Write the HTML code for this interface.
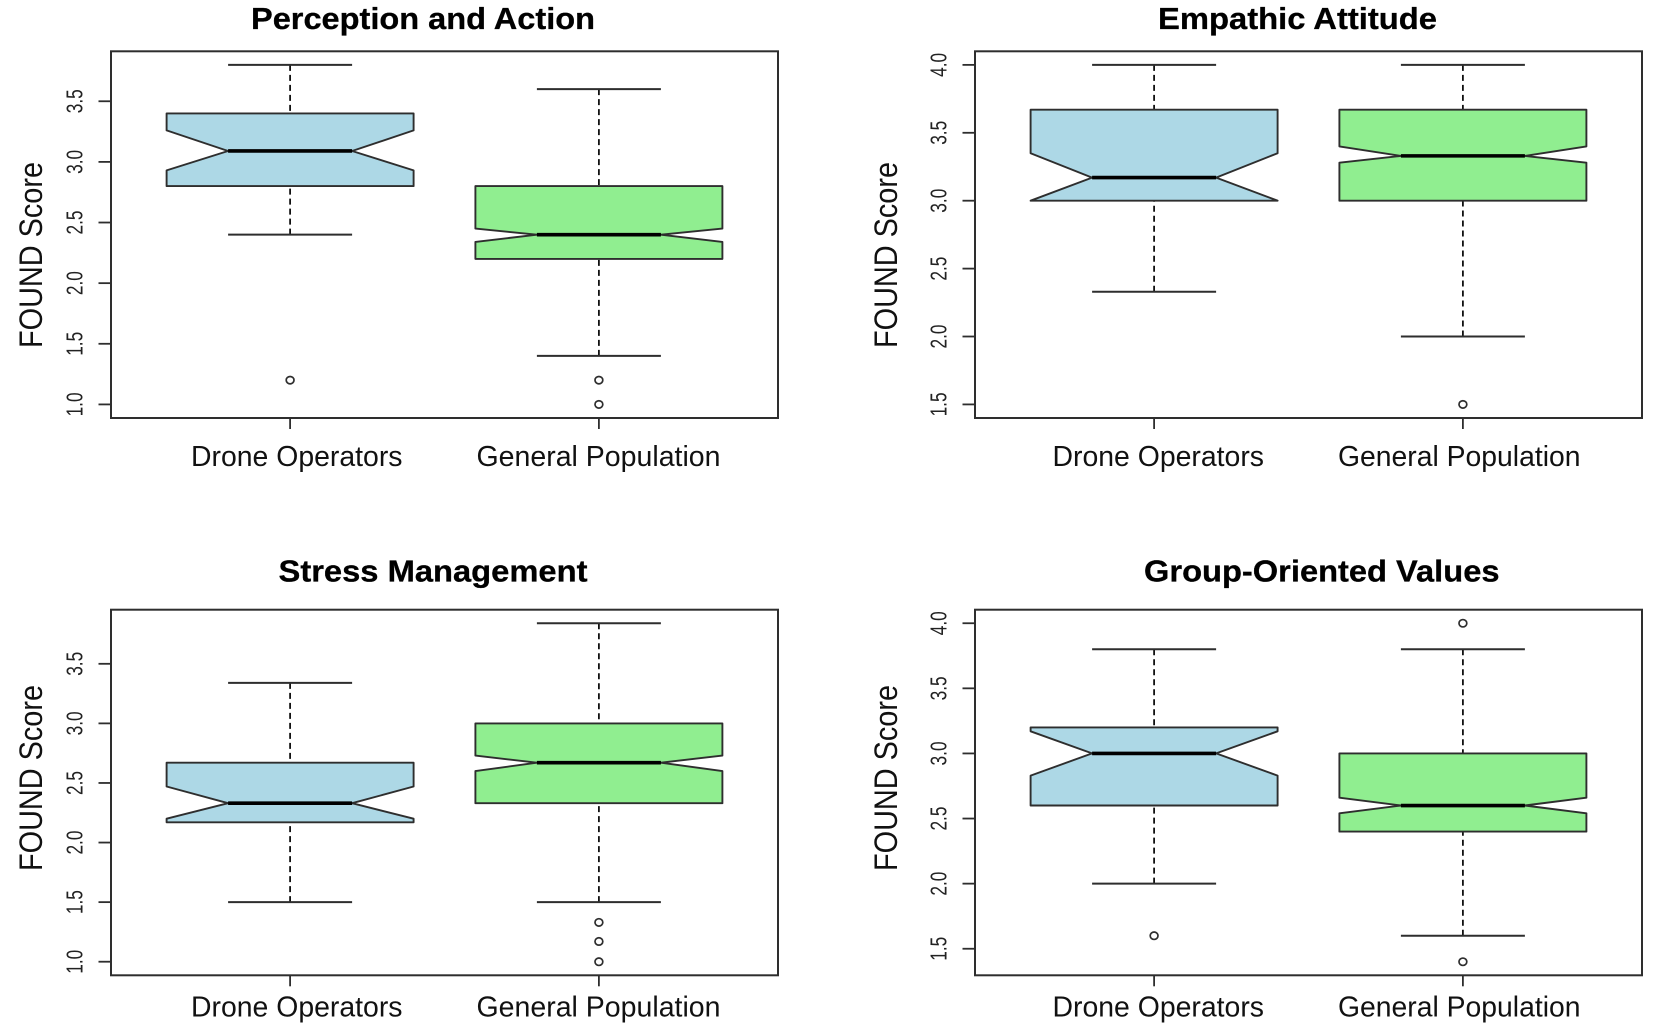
<!DOCTYPE html>
<html lang="en">
<head>
<meta charset="utf-8">
<title>FOUND Score boxplots</title>
<style>
  html, body { margin: 0; padding: 0; background: #ffffff; }
  svg { display: block; font-family: "Liberation Sans", Arial, sans-serif; filter: blur(0.35px); }
</style>
</head>
<body>
<svg id="figure" xmlns="http://www.w3.org/2000/svg" width="1654" height="1036" viewBox="0 0 1654 1036"></svg>
<script>
// Categories and axis labels
const categories = ['Drone Operators', 'General Population'];
const yAxisTitle = 'FOUND Score';

// Perception and Action: [low whisker, Q1, median, Q3, high whisker]
const perceptionDrone = [2.4, 2.8, 3.09, 3.4, 3.8];
const perceptionGeneral = [1.4, 2.2, 2.4, 2.8, 3.6];
const perceptionDroneNotch = [2.93, 3.26];
const perceptionGeneralNotch = [2.34, 2.45];
const perceptionDroneOutliers = [1.2];
const perceptionGeneralOutliers = [1.2, 1.0];
const perceptionTicks = ['1.0', '1.5', '2.0', '2.5', '3.0', '3.5'];
const perceptionDomain = [0.888, 3.912];

// Empathic Attitude
const empathicDrone = [2.33, 3.0, 3.17, 3.67, 4.0];
const empathicGeneral = [2.0, 3.0, 3.33, 3.67, 4.0];
const empathicDroneNotch = [3.0, 3.35];
const empathicGeneralNotch = [3.28, 3.40];
const empathicDroneOutliers = [];
const empathicGeneralOutliers = [1.5];
const empathicTicks = ['1.5', '2.0', '2.5', '3.0', '3.5', '4.0'];
const empathicDomain = [1.4, 4.1];

// Stress Management
const stressDrone = [1.5, 2.17, 2.33, 2.67, 3.34];
const stressGeneral = [1.5, 2.33, 2.67, 3.0, 3.84];
const stressDroneNotch = [2.2, 2.47];
const stressGeneralNotch = [2.6, 2.73];
const stressDroneOutliers = [];
const stressGeneralOutliers = [1.33, 1.17, 1.0];
const stressTicks = ['1.0', '1.5', '2.0', '2.5', '3.0', '3.5'];
const stressDomain = [0.886, 3.954];

// Group-Oriented Values
const groupDrone = [2.0, 2.6, 3.0, 3.2, 3.8];
const groupGeneral = [1.6, 2.4, 2.6, 3.0, 3.8];
const groupDroneNotch = [2.83, 3.17];
const groupGeneralNotch = [2.54, 2.66];
const groupDroneOutliers = [1.6];
const groupGeneralOutliers = [4.0, 1.4];
const groupTicks = ['1.5', '2.0', '2.5', '3.0', '3.5', '4.0'];
const groupDomain = [1.296, 4.104];

const SVG_NS = 'http://www.w3.org/2000/svg';
const figure = document.getElementById('figure');
const INK = '#2e2e2e';
const FILLS = ['#ADD8E6', '#90EE90'];

function make(parent, tag, attrs, text) {
  const node = document.createElementNS(SVG_NS, tag);
  Object.keys(attrs).forEach(function (k) { node.setAttribute(k, attrs[k]); });
  if (text !== undefined) node.textContent = text;
  parent.appendChild(node);
  return node;
}

function drawBox(g, xc, y, stats, notch, outliers, fill) {
  const hw = 123.5, shw = 62;
  const low = stats[0], q1 = stats[1], med = stats[2], q3 = stats[3], high = stats[4];

  const upperWhisker = make(g, 'line', { x1: xc, x2: xc, y1: y(high), y2: y(q3), stroke: '#111', 'stroke-width': 1.8, 'stroke-dasharray': '6 4' });
  
  

  const lowerWhisker = make(g, 'line', { x1: xc, x2: xc, y1: y(low), y2: y(q1), stroke: '#111', 'stroke-width': 1.8, 'stroke-dasharray': '6 4' });
  
  

  const upperCap = make(g, 'line', { x1: xc - shw, x2: xc + shw, y1: y(high), y2: y(high), stroke: INK, 'stroke-width': 2 });
  
  

  const lowerCap = make(g, 'line', { x1: xc - shw, x2: xc + shw, y1: y(low), y2: y(low), stroke: INK, 'stroke-width': 2 });
  
  

  const pts = [
    [xc - hw, y(q1)], [xc - hw, y(notch[0])], [xc - shw, y(med)], [xc - hw, y(notch[1])], [xc - hw, y(q3)],
    [xc + hw, y(q3)], [xc + hw, y(notch[1])], [xc + shw, y(med)], [xc + hw, y(notch[0])], [xc + hw, y(q1)]
  ].map(function (p) { return p[0].toFixed(1) + ',' + p[1].toFixed(1); }).join(' ');
  const box = make(g, 'polygon', { points: pts, fill: fill, stroke: INK, 'stroke-width': 1.9, 'stroke-linejoin': 'round' });
  
  

  const median = make(g, 'line', { x1: xc - shw, x2: xc + shw, y1: y(med), y2: y(med), stroke: '#000', 'stroke-width': 3.6 });
  
  

  outliers.forEach(function (v) {
    const dot = make(g, 'ellipse', { cx: xc, cy: y(v), rx: 3.9, ry: 3.7, fill: '#fff', stroke: INK, 'stroke-width': 1.7 });
    
    
  });
}

function drawPanel(p) {
  const panel = make(figure, 'g', {});
  
  

  const w = p.right - p.left;
  const x = function (i) { return p.left + (i + 1 - 0.42) / 2.16 * w; };
  const y = function (v) { return p.bottom - (v - p.domain[0]) / (p.domain[1] - p.domain[0]) * (p.bottom - p.top); };

  const title = make(panel, 'text', { x: p.titleX[0], y: p.titleY, 'font-size': 31, 'font-weight': 'bold', fill: '#000', stroke: '#000', 'stroke-width': 0.3, textLength: p.titleX[1] - p.titleX[0], lengthAdjust: 'spacingAndGlyphs' }, p.title);
  
  

  const frame = make(panel, 'rect', { x: p.left, y: p.top, width: w, height: p.bottom - p.top, fill: '#fff', stroke: INK, 'stroke-width': 2 });
  
  

  p.ticks.forEach(function (label) {
    const v = parseFloat(label);
    const tick = make(panel, 'line', { x1: p.left - 12.5, x2: p.left, y1: y(v), y2: y(v), stroke: INK, 'stroke-width': 1.8 });
    
    
    const tx = p.left - 28.5;
    const tl = make(panel, 'text', { x: tx - 12, y: y(v), 'font-size': 23, fill: '#222', textLength: 24, lengthAdjust: 'spacingAndGlyphs', transform: 'rotate(-90 ' + tx + ' ' + y(v) + ')' }, label);
    
    
  });

  const yTitle = make(panel, 'text', { x: 0, y: 0, 'font-size': 32, fill: '#111', textLength: 186, lengthAdjust: 'spacingAndGlyphs', transform: 'translate(' + p.yTitleX + ' ' + (p.yTitleMid + 93) + ') rotate(-90)' }, yAxisTitle);
  
  

  categories.forEach(function (c, i) {
    const tick = make(panel, 'line', { x1: x(i), x2: x(i), y1: p.bottom, y2: p.bottom + 11, stroke: INK, 'stroke-width': 1.8 });
    
    
    const lab = make(panel, 'text', { x: p.catX[i][0], y: p.catY, 'font-size': 29, fill: '#111', textLength: p.catX[i][1] - p.catX[i][0], lengthAdjust: 'spacingAndGlyphs' }, c);
    
    
  });

  const droneGroup = make(panel, 'g', {});
  
  
  drawBox(droneGroup, x(0), y, p.drone, p.droneNotch, p.droneOut, FILLS[0]);

  const generalGroup = make(panel, 'g', {});
  
  
  drawBox(generalGroup, x(1), y, p.general, p.generalNotch, p.generalOut, FILLS[1]);
}

drawPanel({
  key: 'perception-and-action', title: 'Perception and Action',
  left: 111, right: 778, top: 51.3, bottom: 418,
  titleX: [251, 595], titleY: 29, yTitleX: 42, yTitleMid: 255,
  catX: [[191, 402.5], [476.5, 720.5]], catY: 466,
  domain: perceptionDomain, ticks: perceptionTicks,
  drone: perceptionDrone, droneNotch: perceptionDroneNotch, droneOut: perceptionDroneOutliers,
  general: perceptionGeneral, generalNotch: perceptionGeneralNotch, generalOut: perceptionGeneralOutliers
});
drawPanel({
  key: 'empathic-attitude', title: 'Empathic Attitude',
  left: 975, right: 1642, top: 51.3, bottom: 418,
  titleX: [1158, 1437], titleY: 29, yTitleX: 897, yTitleMid: 255,
  catX: [[1052.5, 1264], [1338, 1580.5]], catY: 466,
  domain: empathicDomain, ticks: empathicTicks,
  drone: empathicDrone, droneNotch: empathicDroneNotch, droneOut: empathicDroneOutliers,
  general: empathicGeneral, generalNotch: empathicGeneralNotch, generalOut: empathicGeneralOutliers
});
drawPanel({
  key: 'stress-management', title: 'Stress Management',
  left: 111, right: 778, top: 609.7, bottom: 975.3,
  titleX: [278.5, 587.5], titleY: 581.3, yTitleX: 42, yTitleMid: 778,
  catX: [[191, 402.5], [476.5, 720.5]], catY: 1016.5,
  domain: stressDomain, ticks: stressTicks,
  drone: stressDrone, droneNotch: stressDroneNotch, droneOut: stressDroneOutliers,
  general: stressGeneral, generalNotch: stressGeneralNotch, generalOut: stressGeneralOutliers
});
drawPanel({
  key: 'group-oriented-values', title: 'Group-Oriented Values',
  left: 975, right: 1642, top: 609.7, bottom: 975.3,
  titleX: [1144, 1499.5], titleY: 581.3, yTitleX: 897, yTitleMid: 778,
  catX: [[1052.5, 1264], [1338, 1580.5]], catY: 1016.5,
  domain: groupDomain, ticks: groupTicks,
  drone: groupDrone, droneNotch: groupDroneNotch, droneOut: groupDroneOutliers,
  general: groupGeneral, generalNotch: groupGeneralNotch, generalOut: groupGeneralOutliers
});
</script>
</body>
</html>
